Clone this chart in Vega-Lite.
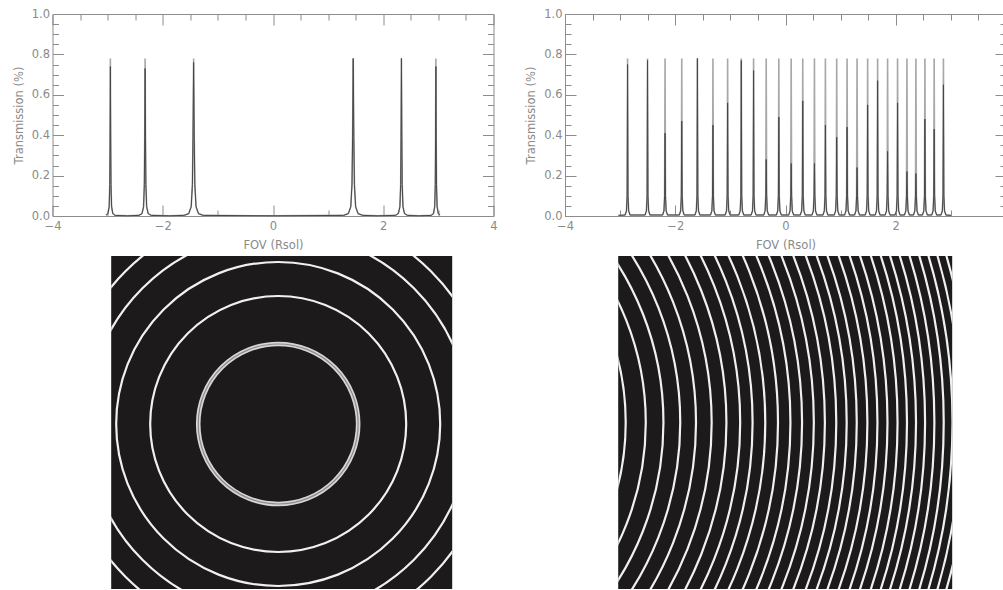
{
"$schema": "https://vega.github.io/schema/vega-lite/v6.json",
"background": "white",
"padding": {"left": 12.5, "top": 8, "right": -4, "bottom": 0},
"config": {
  "view": {"stroke": null},
  "axis": {"domainColor": "#8c8c8c", "tickColor": "#8c8c8c", "labelColor": "#8a8a8a", "titleColor": "#8a8a8a", "labelFont": "DejaVu Sans", "titleFont": "DejaVu Sans", "labelFontSize": 11.5, "titleFontSize": 11.5, "titleFontWeight": "normal", "grid": false, "domainWidth": 1, "tickWidth": 1}
},
"datasets": {
  "left": [
    {"x":-3.03,"t":0.004,"d":0.004},{"x":-2.994,"t":0.012,"d":0.012},{"x":-2.972,"t":0.046,"d":0.046},{"x":-2.961,"t":0.156,"d":0.156},{"x":-2.9555,"t":0.39,"d":0.39},{"x":-2.95,"t":0.78,"d":0.74},{"x":-2.9445,"t":0.39,"d":0.39},{"x":-2.939,"t":0.156,"d":0.156},{"x":-2.928,"t":0.046,"d":0.046},{"x":-2.906,"t":0.012,"d":0.012},{"x":-2.862,"t":0.003,"d":0.003},
    {"x":-2.635,"t":0.001,"d":0.001},
    {"x":-2.432,"t":0.003,"d":0.003},{"x":-2.376,"t":0.012,"d":0.012},{"x":-2.348,"t":0.046,"d":0.046},{"x":-2.334,"t":0.156,"d":0.156},{"x":-2.327,"t":0.39,"d":0.39},{"x":-2.32,"t":0.78,"d":0.73},{"x":-2.313,"t":0.39,"d":0.39},{"x":-2.306,"t":0.156,"d":0.156},{"x":-2.292,"t":0.046,"d":0.046},{"x":-2.264,"t":0.012,"d":0.012},{"x":-2.208,"t":0.003,"d":0.003},
    {"x":-1.88,"t":0.001,"d":0.001},
    {"x":-1.616,"t":0.003,"d":0.003},{"x":-1.528,"t":0.012,"d":0.012},{"x":-1.484,"t":0.046,"d":0.046},{"x":-1.462,"t":0.156,"d":0.156},{"x":-1.451,"t":0.39,"d":0.39},{"x":-1.44,"t":0.78,"d":0.76},{"x":-1.429,"t":0.39,"d":0.39},{"x":-1.418,"t":0.156,"d":0.156},{"x":-1.396,"t":0.046,"d":0.046},{"x":-1.352,"t":0.012,"d":0.012},{"x":-1.264,"t":0.003,"d":0.003},
    {"x":0,"t":0.001,"d":0.001},
    {"x":1.279,"t":0.003,"d":0.003},{"x":1.367,"t":0.012,"d":0.012},{"x":1.411,"t":0.046,"d":0.046},{"x":1.433,"t":0.156,"d":0.156},{"x":1.444,"t":0.39,"d":0.39},{"x":1.455,"t":0.78,"d":0.78},{"x":1.466,"t":0.39,"d":0.39},{"x":1.477,"t":0.156,"d":0.156},{"x":1.499,"t":0.046,"d":0.046},{"x":1.543,"t":0.012,"d":0.012},{"x":1.631,"t":0.003,"d":0.003},
    {"x":1.89,"t":0.001,"d":0.001},
    {"x":2.218,"t":0.003,"d":0.003},{"x":2.274,"t":0.012,"d":0.012},{"x":2.302,"t":0.046,"d":0.046},{"x":2.316,"t":0.156,"d":0.156},{"x":2.323,"t":0.39,"d":0.39},{"x":2.33,"t":0.78,"d":0.78},{"x":2.337,"t":0.39,"d":0.39},{"x":2.344,"t":0.156,"d":0.156},{"x":2.358,"t":0.046,"d":0.046},{"x":2.386,"t":0.012,"d":0.012},{"x":2.442,"t":0.003,"d":0.003},
    {"x":2.645,"t":0.001,"d":0.001},
    {"x":2.867,"t":0.003,"d":0.003},{"x":2.911,"t":0.012,"d":0.012},{"x":2.933,"t":0.046,"d":0.046},{"x":2.944,"t":0.156,"d":0.156},{"x":2.9495,"t":0.39,"d":0.39},{"x":2.955,"t":0.78,"d":0.74},{"x":2.9605,"t":0.39,"d":0.39},{"x":2.966,"t":0.156,"d":0.156},{"x":2.977,"t":0.046,"d":0.046},{"x":2.999,"t":0.012,"d":0.012},{"x":3.03,"t":0.005,"d":0.005}
  ],
  "right": [
    {"x":-3.03,"t":0.003,"d":0.003},
    {"x":-2.91,"t":0.005,"d":0.005},{"x":-2.885,"t":0.025,"d":0.025},{"x":-2.873,"t":0.1,"d":0.1},{"x":-2.865,"t":0.78,"d":0.75},{"x":-2.857,"t":0.1,"d":0.1},{"x":-2.845,"t":0.025,"d":0.025},{"x":-2.82,"t":0.005,"d":0.005},
    {"x":-2.548,"t":0.005,"d":0.005},{"x":-2.523,"t":0.025,"d":0.025},{"x":-2.511,"t":0.1,"d":0.1},{"x":-2.503,"t":0.78,"d":0.77},{"x":-2.495,"t":0.1,"d":0.1},{"x":-2.483,"t":0.025,"d":0.025},{"x":-2.458,"t":0.005,"d":0.005},
    {"x":-2.23,"t":0.005,"d":0.005},{"x":-2.205,"t":0.025,"d":0.025},{"x":-2.193,"t":0.1,"d":0.1},{"x":-2.185,"t":0.78,"d":0.41},{"x":-2.177,"t":0.1,"d":0.1},{"x":-2.165,"t":0.025,"d":0.025},{"x":-2.14,"t":0.005,"d":0.005},
    {"x":-1.927,"t":0.005,"d":0.005},{"x":-1.902,"t":0.025,"d":0.025},{"x":-1.89,"t":0.1,"d":0.1},{"x":-1.882,"t":0.78,"d":0.47},{"x":-1.874,"t":0.1,"d":0.1},{"x":-1.862,"t":0.025,"d":0.025},{"x":-1.837,"t":0.005,"d":0.005},
    {"x":-1.643,"t":0.005,"d":0.005},{"x":-1.618,"t":0.025,"d":0.025},{"x":-1.606,"t":0.1,"d":0.1},{"x":-1.598,"t":0.78,"d":0.78},{"x":-1.59,"t":0.1,"d":0.1},{"x":-1.578,"t":0.025,"d":0.025},{"x":-1.553,"t":0.005,"d":0.005},
    {"x":-1.361,"t":0.005,"d":0.005},{"x":-1.336,"t":0.025,"d":0.025},{"x":-1.324,"t":0.1,"d":0.1},{"x":-1.316,"t":0.78,"d":0.45},{"x":-1.308,"t":0.1,"d":0.1},{"x":-1.296,"t":0.025,"d":0.025},{"x":-1.271,"t":0.005,"d":0.005},
    {"x":-1.095,"t":0.005,"d":0.005},{"x":-1.07,"t":0.025,"d":0.025},{"x":-1.058,"t":0.1,"d":0.1},{"x":-1.05,"t":0.78,"d":0.56},{"x":-1.042,"t":0.1,"d":0.1},{"x":-1.03,"t":0.025,"d":0.025},{"x":-1.005,"t":0.005,"d":0.005},
    {"x":-0.847,"t":0.005,"d":0.005},{"x":-0.822,"t":0.025,"d":0.025},{"x":-0.81,"t":0.1,"d":0.1},{"x":-0.802,"t":0.78,"d":0.77},{"x":-0.794,"t":0.1,"d":0.1},{"x":-0.782,"t":0.025,"d":0.025},{"x":-0.757,"t":0.005,"d":0.005},
    {"x":-0.624,"t":0.005,"d":0.005},{"x":-0.599,"t":0.025,"d":0.025},{"x":-0.587,"t":0.1,"d":0.1},{"x":-0.579,"t":0.78,"d":0.72},{"x":-0.571,"t":0.1,"d":0.1},{"x":-0.559,"t":0.025,"d":0.025},{"x":-0.534,"t":0.005,"d":0.005},
    {"x":-0.395,"t":0.005,"d":0.005},{"x":-0.37,"t":0.025,"d":0.025},{"x":-0.358,"t":0.1,"d":0.1},{"x":-0.35,"t":0.78,"d":0.28},{"x":-0.342,"t":0.1,"d":0.1},{"x":-0.33,"t":0.025,"d":0.025},{"x":-0.305,"t":0.005,"d":0.005},
    {"x":-0.166,"t":0.005,"d":0.005},{"x":-0.141,"t":0.025,"d":0.025},{"x":-0.129,"t":0.1,"d":0.1},{"x":-0.121,"t":0.78,"d":0.49},{"x":-0.113,"t":0.1,"d":0.1},{"x":-0.101,"t":0.025,"d":0.025},{"x":-0.076,"t":0.005,"d":0.005},
    {"x":0.058,"t":0.005,"d":0.005},{"x":0.083,"t":0.025,"d":0.025},{"x":0.095,"t":0.1,"d":0.1},{"x":0.103,"t":0.78,"d":0.26},{"x":0.111,"t":0.1,"d":0.1},{"x":0.123,"t":0.025,"d":0.025},{"x":0.148,"t":0.005,"d":0.005},
    {"x":0.268,"t":0.005,"d":0.005},{"x":0.293,"t":0.025,"d":0.025},{"x":0.305,"t":0.1,"d":0.1},{"x":0.313,"t":0.78,"d":0.57},{"x":0.321,"t":0.1,"d":0.1},{"x":0.333,"t":0.025,"d":0.025},{"x":0.358,"t":0.005,"d":0.005},
    {"x":0.48,"t":0.005,"d":0.005},{"x":0.505,"t":0.025,"d":0.025},{"x":0.517,"t":0.1,"d":0.1},{"x":0.525,"t":0.78,"d":0.26},{"x":0.533,"t":0.1,"d":0.1},{"x":0.545,"t":0.025,"d":0.025},{"x":0.57,"t":0.005,"d":0.005},
    {"x":0.679,"t":0.005,"d":0.005},{"x":0.704,"t":0.025,"d":0.025},{"x":0.716,"t":0.1,"d":0.1},{"x":0.724,"t":0.78,"d":0.45},{"x":0.732,"t":0.1,"d":0.1},{"x":0.744,"t":0.025,"d":0.025},{"x":0.769,"t":0.005,"d":0.005},
    {"x":0.884,"t":0.005,"d":0.005},{"x":0.909,"t":0.025,"d":0.025},{"x":0.921,"t":0.1,"d":0.1},{"x":0.929,"t":0.78,"d":0.39},{"x":0.937,"t":0.1,"d":0.1},{"x":0.949,"t":0.025,"d":0.025},{"x":0.974,"t":0.005,"d":0.005},
    {"x":1.072,"t":0.005,"d":0.005},{"x":1.097,"t":0.025,"d":0.025},{"x":1.109,"t":0.1,"d":0.1},{"x":1.117,"t":0.78,"d":0.44},{"x":1.125,"t":0.1,"d":0.1},{"x":1.137,"t":0.025,"d":0.025},{"x":1.162,"t":0.005,"d":0.005},
    {"x":1.253,"t":0.005,"d":0.005},{"x":1.278,"t":0.025,"d":0.025},{"x":1.29,"t":0.1,"d":0.1},{"x":1.298,"t":0.78,"d":0.24},{"x":1.306,"t":0.1,"d":0.1},{"x":1.318,"t":0.025,"d":0.025},{"x":1.343,"t":0.005,"d":0.005},
    {"x":1.445,"t":0.005,"d":0.005},{"x":1.47,"t":0.025,"d":0.025},{"x":1.482,"t":0.1,"d":0.1},{"x":1.49,"t":0.78,"d":0.55},{"x":1.498,"t":0.1,"d":0.1},{"x":1.51,"t":0.025,"d":0.025},{"x":1.535,"t":0.005,"d":0.005},
    {"x":1.626,"t":0.005,"d":0.005},{"x":1.651,"t":0.025,"d":0.025},{"x":1.663,"t":0.1,"d":0.1},{"x":1.671,"t":0.78,"d":0.67},{"x":1.679,"t":0.1,"d":0.1},{"x":1.691,"t":0.025,"d":0.025},{"x":1.716,"t":0.005,"d":0.005},
    {"x":1.807,"t":0.005,"d":0.005},{"x":1.832,"t":0.025,"d":0.025},{"x":1.844,"t":0.1,"d":0.1},{"x":1.852,"t":0.78,"d":0.32},{"x":1.86,"t":0.1,"d":0.1},{"x":1.872,"t":0.025,"d":0.025},{"x":1.897,"t":0.005,"d":0.005},
    {"x":1.988,"t":0.005,"d":0.005},{"x":2.013,"t":0.025,"d":0.025},{"x":2.025,"t":0.1,"d":0.1},{"x":2.033,"t":0.78,"d":0.56},{"x":2.041,"t":0.1,"d":0.1},{"x":2.053,"t":0.025,"d":0.025},{"x":2.078,"t":0.005,"d":0.005},
    {"x":2.158,"t":0.005,"d":0.005},{"x":2.183,"t":0.025,"d":0.025},{"x":2.195,"t":0.1,"d":0.1},{"x":2.203,"t":0.78,"d":0.22},{"x":2.211,"t":0.1,"d":0.1},{"x":2.223,"t":0.025,"d":0.025},{"x":2.248,"t":0.005,"d":0.005},
    {"x":2.321,"t":0.005,"d":0.005},{"x":2.346,"t":0.025,"d":0.025},{"x":2.358,"t":0.1,"d":0.1},{"x":2.366,"t":0.78,"d":0.21},{"x":2.374,"t":0.1,"d":0.1},{"x":2.386,"t":0.025,"d":0.025},{"x":2.411,"t":0.005,"d":0.005},
    {"x":2.484,"t":0.005,"d":0.005},{"x":2.509,"t":0.025,"d":0.025},{"x":2.521,"t":0.1,"d":0.1},{"x":2.529,"t":0.78,"d":0.48},{"x":2.537,"t":0.1,"d":0.1},{"x":2.549,"t":0.025,"d":0.025},{"x":2.574,"t":0.005,"d":0.005},
    {"x":2.652,"t":0.005,"d":0.005},{"x":2.677,"t":0.025,"d":0.025},{"x":2.689,"t":0.1,"d":0.1},{"x":2.697,"t":0.78,"d":0.43},{"x":2.705,"t":0.1,"d":0.1},{"x":2.717,"t":0.025,"d":0.025},{"x":2.742,"t":0.005,"d":0.005},
    {"x":2.82,"t":0.005,"d":0.005},{"x":2.845,"t":0.025,"d":0.025},{"x":2.857,"t":0.1,"d":0.1},{"x":2.865,"t":0.78,"d":0.65},{"x":2.873,"t":0.1,"d":0.1},{"x":2.885,"t":0.025,"d":0.025},{"x":2.91,"t":0.005,"d":0.005},
    {"x":3.0,"t":0.003,"d":0.003}
  ],
  "rings1": [
    {"cx":0,"cy":0,"r":1.449},{"cx":0,"cy":0,"r":2.319},{"cx":0,"cy":0,"r":2.935},{"cx":0,"cy":0,"r":3.478},{"cx":0,"cy":0,"r":3.913}
  ],
  "rings2": [
    {"cx":-7.5,"cy":0,"r":4.635},{"cx":-7.5,"cy":0,"r":4.997},{"cx":-7.5,"cy":0,"r":5.315},{"cx":-7.5,"cy":0,"r":5.618},{"cx":-7.5,"cy":0,"r":5.902},{"cx":-7.5,"cy":0,"r":6.184},{"cx":-7.5,"cy":0,"r":6.45},{"cx":-7.5,"cy":0,"r":6.698},{"cx":-7.5,"cy":0,"r":6.921},{"cx":-7.5,"cy":0,"r":7.15},{"cx":-7.5,"cy":0,"r":7.379},{"cx":-7.5,"cy":0,"r":7.603},{"cx":-7.5,"cy":0,"r":7.813},{"cx":-7.5,"cy":0,"r":8.025},{"cx":-7.5,"cy":0,"r":8.224},{"cx":-7.5,"cy":0,"r":8.429},{"cx":-7.5,"cy":0,"r":8.617},{"cx":-7.5,"cy":0,"r":8.798},{"cx":-7.5,"cy":0,"r":8.99},{"cx":-7.5,"cy":0,"r":9.171},{"cx":-7.5,"cy":0,"r":9.352},{"cx":-7.5,"cy":0,"r":9.533},{"cx":-7.5,"cy":0,"r":9.703},{"cx":-7.5,"cy":0,"r":9.866},{"cx":-7.5,"cy":0,"r":10.029},{"cx":-7.5,"cy":0,"r":10.197},{"cx":-7.5,"cy":0,"r":10.365},{"cx":-7.5,"cy":0,"r":10.523},{"cx":-7.5,"cy":0,"r":10.679},{"cx":-7.5,"cy":0,"r":10.833}
  ],
  "blank": [{"k":0}]
},
"spacing": 5,
"resolve": {"scale": {"size": "independent"}, "legend": {"size": "independent"}},
"vconcat": [
  {"bounds": "flush", "spacing": 71.5, "hconcat": [
    {"width": 441, "height": 202, "data": {"name": "left"},
     "layer": [
      {"mark": {"type": "line", "color": "#a8a8a8", "strokeWidth": 1.6},
       "encoding": {
         "x": {"field": "x", "type": "quantitative", "scale": {"domain": [-4, 4], "nice": false, "zero": false},
           "axis": {"orient": "bottom", "values": [-4,-3.5,-3,-2.5,-2,-1.5,-1,-0.5,0,0.5,1,1.5,2,2.5,3,3.5,4], "format": "d", "labelExpr": "datum.value % 2 === 0 ? datum.label : ''", "labelOverlap": false, "labelFlush": false, "tickSize": {"condition": {"test": "datum.value % 2 === 0", "value": -11}, "value": -6}, "labelPadding": 15, "title": "FOV (Rsol)", "titlePadding": 3}},
         "y": {"field": "t", "type": "quantitative", "scale": {"domain": [0, 1], "nice": false, "zero": false},
           "axis": {"orient": "left", "values": [0,0.05,0.1,0.15,0.2,0.25,0.3,0.35,0.4,0.45,0.5,0.55,0.6,0.65,0.7,0.75,0.8,0.85,0.9,0.95,1], "format": ".1f", "labelExpr": "abs(datum.value*5 - round(datum.value*5)) < 0.01 ? datum.label : ''", "labelOverlap": false, "labelFlush": false, "tickSize": {"condition": {"test": "abs(datum.value*5 - round(datum.value*5)) < 0.01", "value": -11}, "value": -6}, "labelPadding": 14, "title": "Transmission (%)", "titlePadding": 7}}
       }},
      {"mark": {"type": "line", "color": "#474747", "strokeWidth": 1},
       "encoding": {
         "x": {"field": "x", "type": "quantitative", "scale": {"domain": [-4, 4], "nice": false, "zero": false},
           "axis": {"orient": "top", "values": [-4,-3.5,-3,-2.5,-2,-1.5,-1,-0.5,0,0.5,1,1.5,2,2.5,3,3.5,4], "labels": false, "title": null, "tickSize": {"condition": {"test": "datum.value % 2 === 0", "value": -11}, "value": -6}}},
         "y": {"field": "d", "type": "quantitative", "scale": {"domain": [0, 1], "nice": false, "zero": false},
           "axis": {"orient": "right", "values": [0,0.05,0.1,0.15,0.2,0.25,0.3,0.35,0.4,0.45,0.5,0.55,0.6,0.65,0.7,0.75,0.8,0.85,0.9,0.95,1], "labels": false, "title": null, "tickSize": {"condition": {"test": "abs(datum.value*5 - round(datum.value*5)) < 0.01", "value": -11}, "value": -6}}}
       }}
     ],
     "resolve": {"axis": {"x": "independent", "y": "independent"}}
    },
    {"width": 441, "height": 202, "data": {"name": "right"},
     "layer": [
      {"mark": {"type": "line", "color": "#a8a8a8", "strokeWidth": 1.6},
       "encoding": {
         "x": {"field": "x", "type": "quantitative", "scale": {"domain": [-4, 4], "nice": false, "zero": false},
           "axis": {"orient": "bottom", "values": [-4,-3.5,-3,-2.5,-2,-1.5,-1,-0.5,0,0.5,1,1.5,2,2.5,3,3.5,4], "format": "d", "labelExpr": "datum.value % 2 === 0 && datum.value < 4 ? datum.label : ''", "labelOverlap": false, "labelFlush": false, "tickSize": {"condition": {"test": "datum.value % 2 === 0", "value": -11}, "value": -6}, "labelPadding": 15, "title": "FOV (Rsol)", "titlePadding": 3}},
         "y": {"field": "t", "type": "quantitative", "scale": {"domain": [0, 1], "nice": false, "zero": false},
           "axis": {"orient": "left", "values": [0,0.05,0.1,0.15,0.2,0.25,0.3,0.35,0.4,0.45,0.5,0.55,0.6,0.65,0.7,0.75,0.8,0.85,0.9,0.95,1], "format": ".1f", "labelExpr": "abs(datum.value*5 - round(datum.value*5)) < 0.01 ? datum.label : ''", "labelOverlap": false, "labelFlush": false, "tickSize": {"condition": {"test": "abs(datum.value*5 - round(datum.value*5)) < 0.01", "value": -11}, "value": -6}, "labelPadding": 14, "title": "Transmission (%)", "titlePadding": 7}}
       }},
      {"mark": {"type": "line", "color": "#474747", "strokeWidth": 1},
       "encoding": {
         "x": {"field": "x", "type": "quantitative", "scale": {"domain": [-4, 4], "nice": false, "zero": false},
           "axis": {"orient": "top", "values": [-4,-3.5,-3,-2.5,-2,-1.5,-1,-0.5,0,0.5,1,1.5,2,2.5,3,3.5,4], "labels": false, "title": null, "tickSize": {"condition": {"test": "datum.value % 2 === 0", "value": -11}, "value": -6}}},
         "y": {"field": "d", "type": "quantitative", "scale": {"domain": [0, 1], "nice": false, "zero": false},
           "axis": {"orient": "right", "values": [0,0.05,0.1,0.15,0.2,0.25,0.3,0.35,0.4,0.45,0.5,0.55,0.6,0.65,0.7,0.75,0.8,0.85,0.9,0.95,1], "labels": false, "title": null, "tickSize": {"condition": {"test": "abs(datum.value*5 - round(datum.value*5)) < 0.01", "value": -11}, "value": -6}}}
       }}
     ],
     "resolve": {"axis": {"x": "independent", "y": "independent"}}
    }
  ]},
  {"bounds": "flush", "spacing": 48.7, "resolve": {"scale": {"size": "independent"}, "legend": {"size": "independent"}}, "hconcat": [
    {"width": 10, "height": 10, "data": {"name": "blank"}, "mark": {"type": "point", "opacity": 0}},
    {"bounds": "flush", "spacing": 166, "resolve": {"scale": {"size": "independent"}, "legend": {"size": "independent"}}, "hconcat": [
      {"width": 341, "height": 333, "data": {"name": "rings1"},
       "view": {"fill": "#1c1a1a", "stroke": null},
       "encoding": {
         "x": {"field": "cx", "type": "quantitative", "scale": {"domain": [-3.025, 3.152], "nice": false, "zero": false}, "axis": null},
         "y": {"field": "cy", "type": "quantitative", "scale": {"domain": [-2.989, 3.043], "nice": false, "zero": false}, "axis": null},
         "size": {"field": "r", "type": "quantitative", "scale": {"type": "pow", "exponent": 2, "domain": [0, 4], "range": [0, 195011]}, "legend": null}
       },
       "layer": [
         {"mark": {"type": "point", "shape": "circle", "filled": false, "stroke": "#f0f0f0", "strokeWidth": 2.2, "opacity": 1, "clip": true}},
         {"transform": [{"filter": "datum.r < 2"}], "mark": {"type": "point", "shape": "circle", "filled": false, "stroke": "#d6d6d6", "strokeWidth": 4.6, "opacity": 1, "clip": true}},
         {"transform": [{"filter": "datum.r < 2"}], "mark": {"type": "point", "shape": "circle", "filled": false, "stroke": "#8a8a8a", "strokeWidth": 1.2, "opacity": 1, "clip": true}}
       ]
      },
      {"width": 334, "height": 333, "data": {"name": "rings2"},
       "view": {"fill": "#1c1a1a", "stroke": null},
       "mark": {"type": "point", "shape": "circle", "filled": false, "stroke": "#f0f0f0", "strokeWidth": 2.2, "opacity": 1, "clip": true},
       "encoding": {
         "x": {"field": "cx", "type": "quantitative", "scale": {"domain": [-3, 3.018], "nice": false, "zero": false}, "axis": null},
         "y": {"field": "cy", "type": "quantitative", "scale": {"domain": [-3, 3], "nice": false, "zero": false}, "axis": null},
         "size": {"field": "r", "type": "quantitative", "scale": {"type": "pow", "exponent": 2, "domain": [0, 12], "range": [0, 1774224]}, "legend": null}
       }
      }
    ]}
  ]}
]
}
